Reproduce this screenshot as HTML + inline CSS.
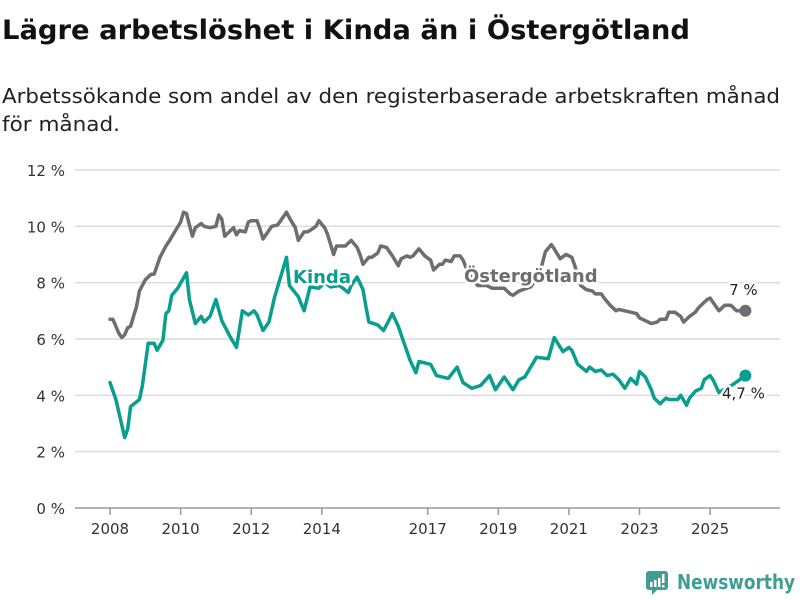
<!DOCTYPE html>
<html><head><meta charset="utf-8"><style>
html,body{margin:0;padding:0;background:#fff;}
svg{display:block;font-family:"DejaVu Sans","Liberation Sans",sans-serif;}
</style></head><body>
<svg id="chart" width="800" height="600" viewBox="0 0 800 600">
<text x="2" y="39" font-size="27" font-weight="bold" fill="#111" textLength="688" lengthAdjust="spacingAndGlyphs">Lägre arbetslöshet i Kinda än i Östergötland</text>
<text x="2" y="103" font-size="20" fill="#222" textLength="778" lengthAdjust="spacingAndGlyphs">Arbetssökande som andel av den registerbaserade arbetskraften månad</text>
<text x="2" y="131" font-size="20" fill="#222" textLength="118" lengthAdjust="spacingAndGlyphs">för månad.</text>
<g id="grid"></g>
<g id="xaxis"></g>
<g id="series"></g>
<g id="labels"></g>
<g>
<rect x="646" y="571" width="22" height="19" rx="3" fill="#3f9e94"/>
<polygon points="652,590 657,590 652,595" fill="#3f9e94"/>
<rect x="650" y="582" width="2.5" height="5" fill="#fff"/><rect x="654" y="580" width="2.5" height="7" fill="#fff"/><rect x="658" y="578" width="2.5" height="9" fill="#fff"/><rect x="662" y="574" width="2.5" height="9" fill="#fff"/><rect x="662" y="585" width="2.5" height="2.5" fill="#fff"/>
<text x="677" y="589" font-size="20" font-weight="bold" fill="#3f9e94" textLength="118" lengthAdjust="spacingAndGlyphs">Newsworthy</text>
</g>
</svg>
<script>
const yTicks = [0, 2, 4, 6, 8, 10, 12];
const xTickYears = [2008, 2010, 2012, 2014, 2017, 2019, 2021, 2023, 2025];
const ostMonths = [0,1,3,4,5,6,7,8,9,10,12,14,15,17,19,20,22,24,25,26,27,28,29,31,32,34,36,37,38,39,41,42,43,44,46,47,48,50,51,52,54,55,57,58,60,61,63,64,66,67,68,70,71,73,74,76,77,79,80,82,84,85,86,88,89,91,92,94,96,98,99,101,102,103,105,107,109,110,112,113,114,116,117,119,120,122,125,128,130,134,136,137,139,143,146,148,150,151,153,155,157,158,160,162,164,165,167,168,170,172,173,175,177,179,180,182,184,186,187,189,190,192,194,195,197,199,200,203,204,206,207,209,211,213,216];
const ostValues = [6.7,6.7,6.2,6.05,6.15,6.4,6.45,6.8,7.15,7.7,8.1,8.3,8.3,8.9,9.3,9.45,9.8,10.15,10.5,10.45,10.05,9.65,9.95,10.1,10.0,9.95,10.0,10.4,10.25,9.65,9.85,9.95,9.7,9.85,9.8,10.15,10.2,10.2,9.9,9.55,9.85,10.0,10.05,10.2,10.5,10.3,9.95,9.5,9.8,9.8,9.85,10.0,10.2,9.95,9.7,9.0,9.3,9.3,9.3,9.5,9.25,9.0,8.65,8.9,8.9,9.05,9.3,9.25,8.95,8.6,8.85,8.95,8.9,8.95,9.2,8.95,8.8,8.45,8.65,8.65,8.8,8.75,8.95,8.95,8.8,8.3,7.9,7.9,7.8,7.8,7.6,7.55,7.7,7.85,8.3,9.1,9.35,9.2,8.85,9.0,8.9,8.6,7.9,7.75,7.7,7.6,7.6,7.45,7.2,7.0,7.05,7.0,6.95,6.9,6.75,6.65,6.55,6.6,6.7,6.7,6.95,6.95,6.8,6.6,6.8,6.95,7.1,7.4,7.45,7.15,7.0,7.2,7.2,7.0,7.0];
const kindaMonths = [0,2,5,6,7,10,11,13,15,16,18,19,20,21,23,26,27,29,31,32,34,36,38,41,43,45,47,49,50,52,54,56,60,61,64,66,68,71,73,75,78,81,82,84,86,87,88,91,93,96,98,99,102,104,105,109,111,115,118,120,123,126,129,131,134,137,139,141,145,149,151,154,156,157,159,162,163,165,167,169,171,173,175,177,179,180,182,184,185,187,189,190,193,194,196,197,199,201,202,204,205,207,212,214,216];
const kindaValues = [4.45,3.85,2.5,2.8,3.6,3.85,4.35,5.85,5.85,5.6,5.95,6.9,7.0,7.55,7.8,8.35,7.4,6.55,6.8,6.6,6.8,7.4,6.65,6.05,5.7,7.0,6.85,7.0,6.85,6.3,6.6,7.5,8.9,7.9,7.5,7.0,7.85,7.8,8.0,7.85,7.9,7.65,7.9,8.2,7.75,7.15,6.6,6.5,6.3,6.9,6.45,6.15,5.25,4.8,5.2,5.1,4.7,4.6,5.0,4.45,4.25,4.35,4.7,4.2,4.65,4.2,4.55,4.65,5.35,5.3,6.05,5.55,5.7,5.6,5.1,4.85,5.0,4.85,4.9,4.7,4.75,4.55,4.25,4.6,4.4,4.85,4.65,4.2,3.9,3.7,3.9,3.85,3.85,4.0,3.65,3.9,4.15,4.25,4.55,4.7,4.55,4.1,4.4,4.55,4.7];

const NS = 'http://www.w3.org/2000/svg';
const x0 = 110, pxPerYear = 35.3, yBase = 508, pxPerPct = 28.17;
function xScale(m){ return x0 + m / 12 * pxPerYear; }
function xYear(y){ return x0 + (y - 2008) * pxPerYear; }
function yScale(v){ return yBase - v * pxPerPct; }
function mk(tag, attrs, parent){ const e=document.createElementNS(NS,tag); for(const k in attrs) e.setAttribute(k,attrs[k]); parent.appendChild(e); return e; }

const grid=document.getElementById('grid');
yTicks.forEach(t=>{
  const l=mk('line',{x1:75,x2:780,y1:yScale(t),y2:yScale(t),stroke:t===0?'#999':'#dcdcdc','stroke-width':t===0?1.5:1.5},grid);
  
  
  const tx=mk('text',{x:65,y:yScale(t)+6,'text-anchor':'end','font-size':15,fill:'#333'},grid);
  tx.textContent=t+' %';
  
  
});
const xa=document.getElementById('xaxis');
xTickYears.forEach(y=>{
  const l=mk('line',{x1:xYear(y),x2:xYear(y),y1:yBase,y2:yBase+7,stroke:'#999','stroke-width':1.5},xa);
  
  
  const tx=mk('text',{x:xYear(y),y:534,'text-anchor':'middle','font-size':15,fill:'#333'},xa);
  tx.textContent=y;
  
  
});
const ser=document.getElementById('series');
function drawLine(months, vals, color, name){
  const d=months.map((m,i)=>(i?'L':'M')+xScale(m).toFixed(1)+','+yScale(vals[i]).toFixed(1)).join('');
  const p=mk('path',{d:d,fill:'none',stroke:color,'stroke-width':3.5,'stroke-linejoin':'round','stroke-linecap':'round'},ser);
  
  
  const n=months.length-1;
  const c=mk('circle',{cx:xScale(months[n]),cy:yScale(vals[n]),r:6,fill:color},ser);
  
  
}
const gray='#6d6d72', teal='#0a9e8f';
drawLine(ostMonths, ostValues, gray, 'ostergotland');
drawLine(kindaMonths, kindaValues, teal, 'kinda');

const lab=document.getElementById('labels');
function label(txt,x,y,color,size,weight,name,anchor){
  const t=mk('text',{x:x,y:y,fill:color,'font-size':size,'font-weight':weight,stroke:'#fff','stroke-width':5,'paint-order':'stroke','stroke-linejoin':'round','text-anchor':anchor||'start'},lab);
  t.textContent=txt;
  
  
}
label('Kinda',293,283,teal,18,'bold','kinda-label');
label('Östergötland',464,282,gray,18,'bold','ostergotland-label');
const nO=ostValues.length-1, nK=kindaValues.length-1;
label(String(ostValues[nO]).replace('.',',')+' %',xScale(ostMonths[nO])-2,yScale(ostValues[nO])-16,'#222',15,'normal','ostergotland-value-label','middle');
label(String(kindaValues[nK]).replace('.',',')+' %',xScale(kindaMonths[nK])-2,yScale(kindaValues[nK])+23,'#222',15,'normal','kinda-value-label','middle');
</script>
</body></html>
